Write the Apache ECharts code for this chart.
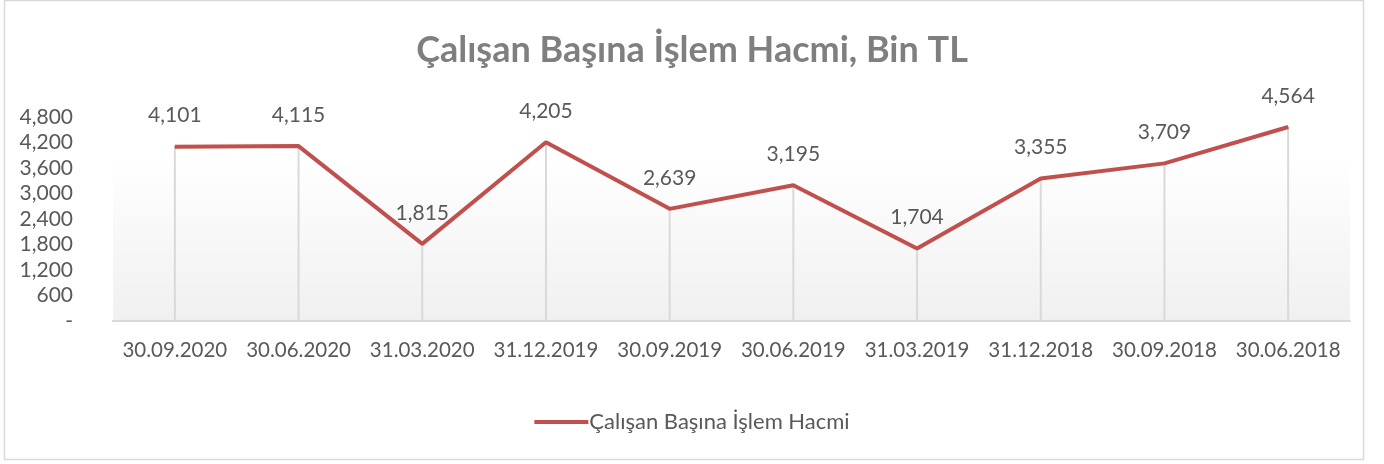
<!DOCTYPE html>
<html>
<head>
<meta charset="utf-8">
<script src="https://cdn.jsdelivr.net/npm/echarts@6/dist/echarts.min.js"></script>
<style>
    html, body { margin: 0; padding: 0; background: #fff; }
    #chart { width: 1384px; height: 464px; }
</style>
</head>
<body>
<div id="chart"></div>
<script>
var categories = ['30.09.2020', '30.06.2020', '31.03.2020', '31.12.2019', '30.09.2019',
                  '30.06.2019', '31.03.2019', '31.12.2018', '30.09.2018', '30.06.2018'];
var values = [4101, 4115, 1815, 4205, 2639, 3195, 1704, 3355, 3709, 4564];
var yTicks = { min: 0, max: 4800, interval: 600 };
var seriesName = 'Çalışan Başına İşlem Hacmi';
var titleText = 'Çalışan Başına İşlem Hacmi, Bin TL';

var font = 'Lato, "Open Sans", sans-serif';

function fmt(v) {
    if (v === 0) return '-';
    return v.toString().replace(/\B(?=(\d{3})+(?!\d))/g, ',');
}

var chart = echarts.init(document.getElementById('chart'));
chart.setOption({
    animation: false,
    textStyle: { fontFamily: font },
    title: {
        text: titleText,
        left: 'center',
        top: 27,
        textStyle: {
            fontFamily: font,
            fontWeight: 'bold',
            fontSize: 36,
            color: '#7f7f7f'
        }
    },
    legend: {
        bottom: 26,
        left: 'center',
        itemWidth: 54,
        itemHeight: 4,
        itemGap: 10,
        icon: 'rect',
        data: [seriesName],
        textStyle: { fontFamily: font, fontSize: 22, color: '#595959', padding: [0, 0, 0, -4] }
    },
    graphic: [{
        type: 'rect',
        shape: { x: 4.5, y: 0.5, width: 1359, height: 459 },
        style: { fill: 'none', stroke: '#d9d9d9', lineWidth: 1.5 },
        silent: true
    }],
    grid: {
        left: 113,
        right: 34,
        top: 117,
        bottom: 143,
        show: true,
        borderWidth: 0,
        backgroundColor: new echarts.graphic.LinearGradient(0, 0, 0, 1, [
            { offset: 0, color: '#ffffff' },
            { offset: 0.2, color: '#ffffff' },
            { offset: 1, color: '#f0f0f0' }
        ])
    },
    xAxis: {
        type: 'category',
        data: categories,
        boundaryGap: true,
        axisLine: { lineStyle: { color: '#d9d9d9', width: 2 } },
        axisTick: { show: false },
        axisLabel: {
            interval: 0,
            margin: 19,
            fontSize: 20.5,
            color: '#595959',
            fontFamily: font
        }
    },
    yAxis: {
        type: 'value',
        min: yTicks.min,
        max: yTicks.max,
        interval: yTicks.interval,
        axisLine: { show: false },
        axisTick: { show: false },
        splitLine: { show: false },
        axisLabel: {
            margin: 40,
            fontSize: 21,
            color: '#595959',
            fontFamily: font,
            formatter: fmt
        }
    },
    series: [
        {
            name: 'drop',
            type: 'bar',
            data: values,
            barWidth: 2,
            silent: true,
            itemStyle: { color: '#d9d9d9' },
            z: 1
        },
        {
            name: seriesName,
            type: 'line',
            data: values,
            showSymbol: true,
            symbol: 'circle',
            symbolSize: 1,
            lineStyle: { color: '#c0504d', width: 4 },
            itemStyle: { color: '#c0504d' },
            label: {
                show: true,
                position: 'top',
                distance: 20,
                fontSize: 21,
                color: '#595959',
                fontFamily: font,
                formatter: function (p) { return fmt(p.value); }
            },
            z: 3
        }
    ]
});
</script>
</body>
</html>
